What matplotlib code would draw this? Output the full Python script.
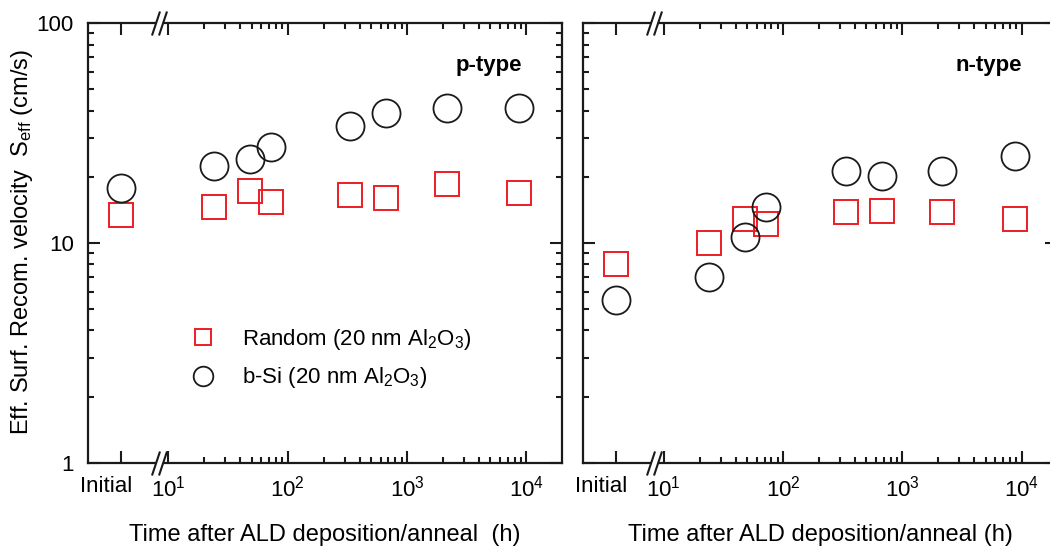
import numpy as np
import matplotlib
matplotlib.use("Agg")
import matplotlib.pyplot as plt
from matplotlib.path import Path
from matplotlib.transforms import ScaledTranslation, blended_transform_factory
from matplotlib.ticker import FixedLocator, NullFormatter

plt.rcParams["font.family"] = ["Liberation Sans", "DejaVu Sans"]
plt.rcParams["mathtext.fontset"] = "custom"
plt.rcParams["mathtext.rm"] = "Liberation Sans"
plt.rcParams["mathtext.it"] = "Liberation Sans:italic"
plt.rcParams["mathtext.bf"] = "Liberation Sans:bold"

# time after deposition (h); "Initial" is drawn at 4 h on the log axis
times = [4, 24, 48, 72, 336, 672, 2160, 8760]
xtick_vals = [4, 10, 100, 1000, 10000]
xtick_labels = ["Initial", "$10^1$", "$10^2$", "$10^3$", "$10^4$"]
ytick_vals = [1, 10, 100]
ytick_labels = ["1", "10", "100"]

# p-type
p_random = [13.4, 14.6, 17.2, 15.4, 16.5, 16.0, 18.5, 16.9]
p_bsi = [17.8, 22.4, 24.1, 27.3, 34.0, 39.0, 41.1, 41.1]
# n-type
n_random = [8.0, 10.0, 12.8, 12.2, 13.8, 14.0, 13.9, 12.8]
n_bsi = [5.5, 7.0, 10.6, 14.6, 21.3, 20.2, 21.3, 24.8]

RED = "#ee1c24"
BLK = "#1a1a1a"
FS = 16
FS_LAB = 17

fig = plt.figure(figsize=(10.5, 5.46), dpi=100)
ax1 = fig.add_axes([87.7 / 1050, 0.1526, 474.3 / 1050, 0.8048])
ax2 = fig.add_axes([583 / 1050, 0.1526, 474.3 / 1050, 0.8048])

# two slashes marking the axis break, plus a white patch cutting the spine
brk = Path([(-7.5, -12), (0.5, 12), (-0.5, -12), (7.5, 12)],
           [Path.MOVETO, Path.LINETO, Path.MOVETO, Path.LINETO])
gap = Path([(-3.5, -1.6), (3.5, -1.6), (3.5, 1.6), (-3.5, 1.6), (-3.5, -1.6)],
           [Path.MOVETO, Path.LINETO, Path.LINETO, Path.LINETO, Path.CLOSEPOLY])

minors = [m * 10 ** d for d in range(1, 5) for m in range(2, 10)]

panels = [(ax1, p_random, p_bsi, "p-type", 0.916, "Time after ALD deposition/anneal  (h)"),
          (ax2, n_random, n_bsi, "n-type", 0.926, "Time after ALD deposition/anneal (h)")]

for ax, rnd, bsi, name, nx, xlab in panels:
    ax.plot(times, rnd, ls="none", marker="s", ms=17.2, mfc="none", mec=RED,
            mew=1.4, label="Random (20 nm Al$_2$O$_3$)")
    ax.plot(times, bsi, ls="none", marker="o", ms=20.2, mfc="none", mec=BLK,
            mew=1.3, label="b-Si (20 nm Al$_2$O$_3$)")

    ax.set_xscale("log")
    ax.set_yscale("log")
    ax.set_xlim(10 ** 0.323, 10 ** 4.30)
    ax.set_ylim(1, 100)

    ax.xaxis.set_major_locator(FixedLocator(xtick_vals))
    ax.set_xticklabels(xtick_labels)
    ax.xaxis.set_minor_locator(FixedLocator(minors))
    ax.xaxis.set_minor_formatter(NullFormatter())
    ax.yaxis.set_major_locator(FixedLocator(ytick_vals))
    ax.set_yticklabels(ytick_labels)
    ax.yaxis.set_minor_formatter(NullFormatter())

    ax.tick_params(which="both", direction="in", top=True, right=True,
                   width=1.5, labelsize=FS, color=BLK)
    ax.tick_params(which="major", length=8.5)
    ax.tick_params(which="minor", length=4.5)
    ax.tick_params(axis="x", pad=9.5)
    ax.tick_params(axis="y", pad=10)
    for sp in ax.spines.values():
        sp.set_linewidth(1.6)
        sp.set_color(BLK)

    # shift the "Initial" label a bit to the left
    lbl = ax.get_xticklabels()[0]
    lbl.set_transform(lbl.get_transform() + ScaledTranslation(-0.15, 0, fig.dpi_scale_trans))

    ax.set_xlabel(xlab, fontsize=FS_LAB, labelpad=16)
    ax.text(nx, 0.905, name, transform=ax.transAxes, fontsize=FS,
            fontweight="bold", ha="right", va="center")

    bt = blended_transform_factory(ax.transData, ax.transAxes)
    ax.plot([8.3, 8.3], [0, 1], transform=bt, ls="none", marker=gap, ms=5.0,
            mfc="white", mec="white", mew=0.5, clip_on=False, zorder=4)
    ax.plot([8.3, 8.3], [0, 1], transform=bt, ls="none", marker=brk, ms=17.3,
            mec=BLK, mew=1.5, clip_on=False, zorder=5)

ax2.set_yticklabels([])

ax1.legend(loc="upper left", bbox_to_anchor=(0.155, 0.355), frameon=False,
           fontsize=FS, markerscale=0.7, handletextpad=0.75, labelspacing=0.62,
           numpoints=1)

fig.text(22 / 1050, 1 - 242 / 546,
         "Eff. Surf. Recom. velocity  S$_\\mathregular{eff}$ (cm/s)",
         rotation=90, ha="center", va="center", fontsize=FS_LAB)

fig.savefig("out.png", dpi=100)
